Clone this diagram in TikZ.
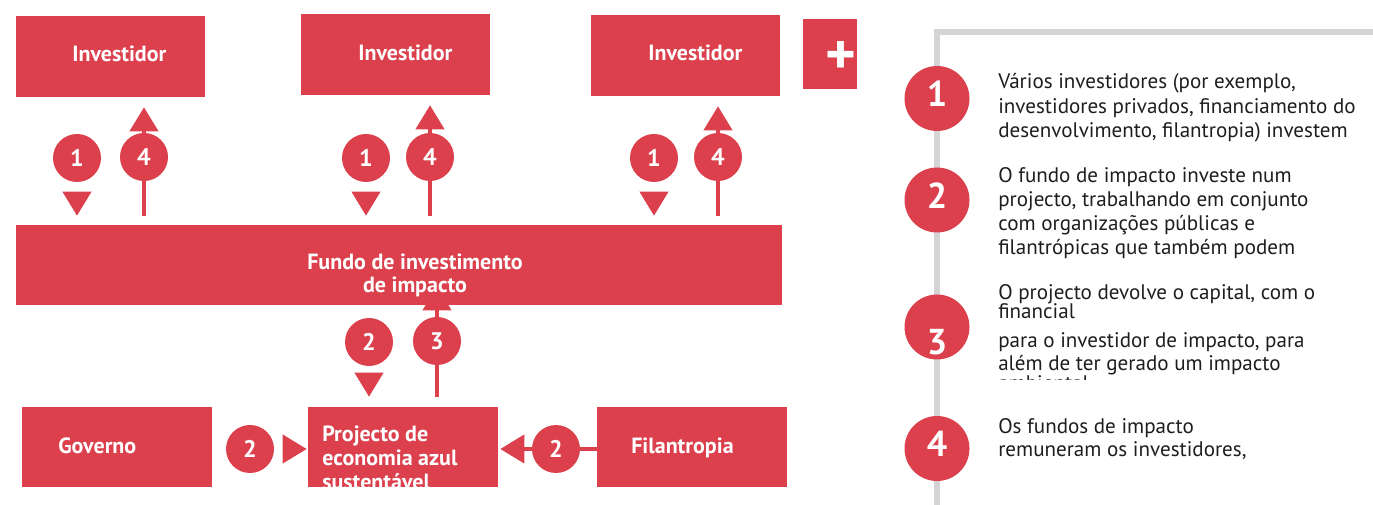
\documentclass[tikz,border=0pt]{standalone}
\usepackage{fontspec}
\setmainfont{PT Sans}
\usetikzlibrary{arrows.meta,backgrounds}
\definecolor{brand}{HTML}{DB404C}
\definecolor{rail}{HTML}{D4D4D6}
\definecolor{ink}{HTML}{1E1E1E}
\tikzset{
  box/.style 2 args={fill=brand,draw=none,inner sep=0pt,minimum width=#1*0.75pt,minimum height=#2*0.75pt}
}

\begin{document}
\begin{tikzpicture}[x=0.75pt,y=-0.75pt,
  boxtext/.style={text=white,font=\bfseries\fontsize{16.5}{18}\selectfont,anchor=base west,inner sep=0pt},
  badge/.style={circle,fill=brand,text=white,inner sep=0pt,minimum size=36pt,font=\bfseries\fontsize{18}{18}\selectfont},
  bigbadge/.style={circle,fill=brand,inner sep=0pt,minimum size=48.75pt},
  bignum/.style={text=white,font=\bfseries\fontsize{27}{27}\selectfont,inner sep=0pt},
  note/.style={text=ink,font=\fontsize{15.8}{18.4}\selectfont,anchor=base west,align=left,inner sep=0pt},
  flow/.style={draw=brand,line width=3pt,-{Triangle[width=21pt,length=18pt]}}]
\useasboundingbox (0,0) rectangle (1373,505);

% boxes
\node[box={189}{81}] (inv1) at (110.5,56.5) {};
\node[box={189}{81}] (inv2) at (395.5,54.5) {};
\node[box={189}{81}] (inv3) at (685.5,55.5) {};
\node[box={54}{70}] (more) at (830,54) {};
\node[box={766}{80}] (fundo) at (399,265) {};
\node[box={190}{80}] (gov) at (117,447) {};
\node[box={190}{80}] (proj) at (403,447) {};
\node[box={190}{80}] (filan) at (692,447) {};

% base of a multi-line node sits on its last line
\node[boxtext] (inv1t) at (72,62) {Investidor};
\node[boxtext] (inv2t) at (358,61) {Investidor};
\node[boxtext] (inv3t) at (648,61) {Investidor};
\node[text=white,font=\bfseries\fontsize{44}{44}\selectfont,inner sep=0pt] (moret) at (840.5,58) {+};
\node[boxtext,anchor=base,align=center,font=\bfseries\fontsize{16.5}{17.25}\selectfont] (fundot) at (415,293) {Fundo de investimento\\de impacto};
\node[boxtext] (govt) at (58,453) {Governo};
\node[boxtext,align=left] (projt) at (322,489) {Projecto de\\economia azul\\sustentável};
\node[boxtext] (filant) at (631,453) {Filantropia};

% numbered badges
\foreach \x/\n in {77/a,366/b,654/c}
  \node[badge] (one\n) at (\x,158) {1};
\foreach \x/\n in {144/a,430/b,718/c}
  \node[badge] (four\n) at (\x,157) {4};
\node[badge] (twoF) at (369,342) {2};
\node[badge] (three) at (437,341) {3};
\node[badge] (twoG) at (250,449) {2};
\node[badge] (twoP) at (556,449) {2};

% flows
\begin{scope}[on background layer]
\foreach \n/\i in {a/inv1,b/inv2,c/inv3}{
  \draw[flow,shorten <=8.25pt,shorten >=6.75pt] (one\n.south) -- (one\n |- fundo.north);
  \draw[flow,shorten <=6.75pt,shorten >=7.5pt] (four\n |- fundo.north) -- (four\n |- \i.south);
}
\draw[flow,shorten <=5.25pt,shorten >=7.5pt] (twoF.south) -- (twoF |- proj.north);
\draw[flow,shorten <=7.5pt,shorten >=-14.25pt] (three |- proj.north) -- (three |- fundo.south);
\draw[flow,shorten <=6.75pt,shorten >=0.75pt] (twoG.east) -- (twoG -| proj.west);
\draw[flow,shorten >=1.5pt] (filan.west |- twoP) -- (proj.east |- twoP);
\end{scope}

% legend
\coordinate (railfoot) at (937,505);
\coordinate (railtop) at (937,32);
\coordinate (railend) at (1373,32);
\draw[rail,line width=4.5pt] (railfoot) -- (railtop) -- (railend);
\foreach \y/\ny/\n in {98.5/93.5/1,200/196/2,327/342/3,448.5/444/4}{
  \node[bigbadge] (item\n) at (937,\y) {};
  \node[bignum] (item\n num) at (937,\ny) {\n};
}

\node[note] (note1) at (998,138) {Vários investidores (por exemplo,\\investidores privados, financiamento do\\desenvolvimento, filantropia) investem};
\node[note,font=\fontsize{15.8}{18}\selectfont] (note2) at (998,255) {O fundo de impacto investe num\\projecto, trabalhando em conjunto\\com organizações públicas e\\filantrópicas que também podem};
\node[note] (note3a) at (998,300) {O projecto devolve o capital, com o};
\node[note] (note3b) at (998,319) {financial};
\node[note] (note3c) at (998,348) {para o investidor de impacto, para};
\node[note] (note3d) at (998,371) {além de ter gerado um impacto};
\begin{scope}
  \clip (990,360) rectangle (1373,380);
  \node[note] (note3e) at (998,391) {ambiental};
\end{scope}
\node[note,font=\fontsize{15.8}{17.25}\selectfont] (note4) at (998,456) {Os fundos de impacto\\remuneram os investidores,};
\end{tikzpicture}
\end{document}
